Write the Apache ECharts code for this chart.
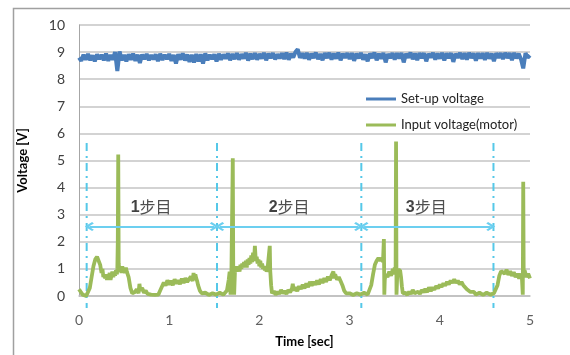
<!DOCTYPE html>
<html>
<head>
<meta charset="utf-8">
<script src="https://cdn.jsdelivr.net/npm/echarts@6.0.0/dist/echarts.min.js"></script>
<style>
  html, body { margin: 0; padding: 0; background: #fff; }
  #chart { width: 570px; height: 355px; }
</style>
</head>
<body>
<div id="chart"></div>
<script>
// axis ticks
var xTicks = { min: 0, max: 5, step: 1 }
var yTicks = { min: 0, max: 10, step: 1 }

// Set-up voltage, sampled every 0.025 s
var setupStep = 0.025
var setupVolt = [
  8.80, 8.68, 8.90, 8.72, 8.93, 8.70, 8.88, 8.66, 8.92, 8.74,
  8.90, 8.70, 8.94, 8.68, 8.89, 8.72, 9.00, 8.30, 9.02, 8.70,
  8.90, 8.66, 8.92, 8.72, 8.94, 8.68, 8.90, 8.60, 8.91, 8.74,
  8.93, 8.70, 8.89, 8.73, 8.92, 8.67, 8.94, 8.71, 8.90, 8.74,
  8.93, 8.68, 8.89, 8.58, 8.92, 8.72, 8.95, 8.69, 8.91, 8.64,
  8.90, 8.62, 8.93, 8.66, 8.92, 8.58, 8.95, 8.70, 8.90, 8.74,
  8.92, 8.66, 8.94, 8.72, 8.91, 8.76, 8.95, 8.70, 8.93, 8.74,
  8.96, 8.72, 8.92, 8.76, 8.97, 8.69, 8.94, 8.74, 8.96, 8.72,
  8.93, 8.76, 8.97, 8.70, 8.94, 8.78, 8.96, 8.73, 8.92, 8.77,
  8.96, 8.74, 8.98, 8.72, 8.94, 8.80, 9.00, 9.10, 8.79, 8.96,
  8.76, 8.97, 8.72, 8.94, 8.78, 8.98, 8.74, 8.93, 8.70, 8.96,
  8.78, 8.97, 8.72, 8.95, 8.76, 8.98, 8.70, 8.94, 8.79, 8.96,
  8.74, 8.96, 8.68, 8.94, 8.77, 8.97, 8.72, 8.92, 8.66, 8.95,
  8.78, 8.98, 8.70, 8.94, 8.76, 8.97, 8.62, 8.93, 8.78, 8.96,
  8.72, 8.96, 8.77, 8.97, 8.62, 8.94, 8.79, 8.98, 8.74, 8.95,
  8.70, 8.96, 8.78, 8.96, 8.66, 8.94, 8.80, 8.97, 8.72, 8.95,
  8.76, 8.97, 8.69, 8.95, 8.78, 8.96, 8.64, 8.94, 8.79, 8.97,
  8.74, 8.96, 8.72, 8.97, 8.78, 8.95, 8.68, 8.96, 8.77, 8.96,
  8.71, 8.97, 8.76, 8.95, 8.66, 8.96, 8.79, 8.96, 8.74, 8.97,
  8.78, 8.96, 8.70, 8.97, 8.77, 8.94, 8.74, 8.40, 8.96, 8.80,
  8.88
]

// Input voltage (motor): time [s] and value [V]
var inputTime = [
  0.00, 0.02, 0.04, 0.06, 0.08, 0.10, 0.12, 0.14, 0.16, 0.18,
  0.20, 0.22, 0.235, 0.25, 0.26, 0.27, 0.28, 0.29, 0.30, 0.31,
  0.32, 0.33, 0.34, 0.35, 0.36, 0.37, 0.38, 0.39, 0.40, 0.41,
  0.42, 0.425, 0.43, 0.435, 0.44, 0.45, 0.46, 0.47, 0.48, 0.49,
  0.50, 0.51, 0.52, 0.53, 0.55, 0.57, 0.59, 0.62, 0.64, 0.66,
  0.67, 0.68, 0.70, 0.72, 0.74, 0.76, 0.78, 0.80, 0.82, 0.84,
  0.86, 0.88, 0.90, 0.92, 0.94, 0.96, 0.98, 1.00, 1.02, 1.04,
  1.06, 1.08, 1.10, 1.12, 1.14, 1.16, 1.18, 1.20, 1.22, 1.24,
  1.26, 1.27, 1.28, 1.29, 1.30, 1.31, 1.32, 1.34, 1.36, 1.38,
  1.40, 1.44, 1.48, 1.52, 1.56, 1.60, 1.62, 1.64, 1.66, 1.67,
  1.68, 1.69, 1.70, 1.705, 1.71, 1.72, 1.73, 1.74, 1.75, 1.76,
  1.77, 1.78, 1.79, 1.80, 1.81, 1.82, 1.83, 1.84, 1.85, 1.86,
  1.87, 1.88, 1.89, 1.90, 1.91, 1.92, 1.93, 1.94, 1.95, 1.96,
  1.97, 1.98, 1.99, 2.00, 2.01, 2.02, 2.03, 2.04, 2.05, 2.06,
  2.07, 2.08, 2.09, 2.10, 2.11, 2.115, 2.12, 2.13, 2.14, 2.16,
  2.18, 2.20, 2.22, 2.24, 2.26, 2.28, 2.30, 2.32, 2.34, 2.36,
  2.37, 2.38, 2.40, 2.42, 2.44, 2.46, 2.48, 2.50, 2.52, 2.54,
  2.56, 2.58, 2.60, 2.62, 2.64, 2.66, 2.68, 2.70, 2.72, 2.74,
  2.76, 2.78, 2.80, 2.82, 2.83, 2.84, 2.86, 2.88, 2.90, 2.92,
  2.94, 2.96, 2.98, 3.00, 3.04, 3.08, 3.12, 3.16, 3.20, 3.22,
  3.24, 3.26, 3.28, 3.30, 3.32, 3.34, 3.36, 3.37, 3.38, 3.385,
  3.39, 3.40, 3.42, 3.44, 3.46, 3.48, 3.49, 3.50, 3.51, 3.515,
  3.52, 3.53, 3.54, 3.55, 3.56, 3.57, 3.58, 3.59, 3.60, 3.62,
  3.64, 3.66, 3.68, 3.70, 3.72, 3.74, 3.76, 3.78, 3.80, 3.82,
  3.84, 3.86, 3.88, 3.90, 3.92, 3.94, 3.96, 3.98, 4.00, 4.02,
  4.04, 4.06, 4.08, 4.10, 4.12, 4.14, 4.16, 4.18, 4.20, 4.22,
  4.24, 4.26, 4.28, 4.30, 4.32, 4.34, 4.36, 4.38, 4.40, 4.44,
  4.48, 4.52, 4.56, 4.60, 4.62, 4.64, 4.66, 4.68, 4.70, 4.72,
  4.74, 4.76, 4.78, 4.80, 4.82, 4.84, 4.86, 4.88, 4.90, 4.91,
  4.92, 4.925, 4.93, 4.94, 4.96, 4.98, 5.00
]
var inputVolt = [
  0.25, 0.15, 0.05, 0.00, 0.00, 0.05, 0.30, 0.70, 1.10, 1.35,
  1.45, 1.40, 1.15, 0.85, 1.00, 0.70, 0.80, 0.65, 0.75, 0.60,
  0.80, 0.70, 0.85, 0.60, 0.75, 0.90, 0.70, 0.85, 0.75, 0.95,
  0.80, 1.00, 2.00, 5.22, 1.20, 0.90, 1.05, 0.85, 1.10, 0.90,
  1.00, 0.85, 1.05, 0.90, 0.70, 0.30, 0.10, 0.15, 0.25, 0.10,
  0.45, 0.20, 0.30, 0.12, 0.20, 0.08, 0.15, 0.05, 0.12, 0.04,
  0.10, 0.05, 0.20, 0.35, 0.50, 0.38, 0.58, 0.42, 0.56, 0.40,
  0.62, 0.46, 0.58, 0.44, 0.64, 0.48, 0.66, 0.52, 0.62, 0.72,
  0.55, 0.85, 0.60, 0.80, 0.65, 0.55, 0.40, 0.20, 0.10, 0.05,
  0.12, 0.04, 0.10, 0.05, 0.12, 0.05, 0.10, 0.20, 0.60, 0.90,
  0.05, 0.95, 1.00, 5.08, 1.00, 0.05, 1.00, 0.90, 1.10, 0.95,
  1.05, 0.90, 1.15, 1.00, 1.20, 1.05, 1.25, 1.10, 1.30, 1.05,
  1.35, 1.15, 1.40, 1.20, 1.50, 1.25, 1.60, 1.30, 1.85, 1.30,
  1.45, 1.20, 1.35, 1.10, 1.30, 1.05, 1.20, 1.00, 1.10, 0.95,
  1.05, 0.90, 1.00, 0.95, 1.00, 1.85, 0.95, 0.40, 0.10, 0.18,
  0.05, 0.16, 0.08, 0.22, 0.10, 0.18, 0.08, 0.22, 0.14, 0.26,
  0.45, 0.20, 0.32, 0.18, 0.36, 0.26, 0.42, 0.28, 0.46, 0.33,
  0.52, 0.38, 0.52, 0.42, 0.57, 0.43, 0.62, 0.48, 0.66, 0.52,
  0.72, 0.58, 0.76, 0.90, 0.65, 0.80, 0.60, 0.70, 0.55, 0.40,
  0.20, 0.10, 0.05, 0.10, 0.04, 0.10, 0.05, 0.12, 0.05, 0.10,
  0.40, 0.80, 1.15, 1.30, 1.40, 1.30, 1.40, 1.25, 2.10, 0.05,
  0.60, 0.80, 0.70, 0.90, 0.75, 1.00, 0.80, 1.05, 0.90, 5.70,
  0.05, 0.95, 1.00, 0.90, 0.95, 0.70, 0.35, 0.10, 0.05, 0.12,
  0.04, 0.16, 0.08, 0.22, 0.10, 0.05, 0.16, 0.08, 0.22, 0.14,
  0.26, 0.14, 0.32, 0.18, 0.32, 0.23, 0.37, 0.28, 0.42, 0.33,
  0.47, 0.38, 0.52, 0.43, 0.57, 0.48, 0.62, 0.48, 0.57, 0.43,
  0.52, 0.40, 0.35, 0.25, 0.20, 0.15, 0.10, 0.15, 0.05, 0.12,
  0.04, 0.12, 0.05, 0.10, 0.15, 0.40, 0.75, 0.92, 0.98, 0.82,
  0.97, 0.78, 0.92, 0.74, 0.88, 0.70, 0.82, 0.64, 0.82, 0.70,
  0.05, 4.22, 0.80, 0.95, 0.70, 0.82, 0.65
]

// step markers (dash-dot lines) and arrows between them
var stepBounds = [0.085, 1.53, 3.13, 4.595]
var markerTop = 5.65
var markerBottom = -0.44
var arrowY = 2.56
var stepNames = ['1', '2', '3']
var stepLabelX = [0.80, 2.33, 3.85]
var stepLabelY = 3.28

var seriesNames = ['Set-up voltage', 'Input voltage(motor)']

var chart = echarts.init(document.getElementById('chart'))

var setupData = setupVolt.map(function (v, i) { return [i * setupStep, v] })
var inputData = inputTime.map(function (t, i) { return [t, inputVolt[i]] })
var boundData = stepBounds.map(function (x) { return [x, markerTop, markerBottom] })

var cyan = '#55c8e8'
var chevron = 'path://M5,0 L10,8 L8.4,10 L5,4.4 L1.6,10 L0,8 Z'

var arrows = []
for (var i = 0; i < stepBounds.length - 1; i++) {
  arrows.push([
    { coord: [stepBounds[i] + 0.03, arrowY] },
    { coord: [stepBounds[i + 1] - 0.03, arrowY] }
  ])
}

var labelData = stepNames.map(function (n, i) {
  return { value: [stepLabelX[i], stepLabelY], name: n }
})

var font = 'Lato, "Noto Sans", sans-serif'

var option = {
  animation: false,
  textStyle: { fontFamily: font },
  grid: { left: 79, right: 40, top: 25, bottom: 59 },
  graphic: [{
    type: 'rect',
    silent: true,
    shape: { x: 13.5, y: 8.5, width: 620, height: 400 },
    style: { fill: 'none', stroke: '#a0a0a0', lineWidth: 1.5 }
  }],
  legend: {
    data: seriesNames,
    orient: 'vertical',
    left: 361,
    top: 87,
    itemWidth: 30,
    itemHeight: 3,
    itemGap: 12,
    icon: 'rect',
    textStyle: { fontFamily: font, fontSize: 13, color: '#222', lineHeight: 14 }
  },
  xAxis: {
    type: 'value',
    min: xTicks.min,
    max: xTicks.max,
    interval: xTicks.step,
    name: 'Time [sec]',
    nameLocation: 'middle',
    nameGap: 39,
    nameTextStyle: { fontWeight: 'bold', fontSize: 13, color: '#000', fontFamily: font },
    axisLine: { lineStyle: { color: '#bfbfbf', width: 1.5 } },
    axisTick: { show: false },
    axisLabel: { fontSize: 14, color: '#606060', margin: 17, fontFamily: font },
    splitLine: { show: false }
  },
  yAxis: {
    type: 'value',
    min: yTicks.min,
    max: yTicks.max,
    interval: yTicks.step,
    name: 'Voltage [V]',
    nameLocation: 'middle',
    nameGap: 50,
    nameTextStyle: { fontWeight: 'bold', fontSize: 13, color: '#000', fontFamily: font },
    axisLine: { show: true, lineStyle: { color: '#a6a6a6', width: 1 } },
    axisTick: { show: false },
    axisLabel: { fontSize: 14, color: '#404040', margin: 14, fontFamily: font },
    splitLine: { lineStyle: { color: '#c4c4c4', width: 1.5 } }
  },
  series: [
    {
      name: seriesNames[0],
      type: 'line',
      data: setupData,
      showSymbol: false,
      symbol: 'none',
      lineStyle: { color: '#4a7ebb', width: 4 },
      itemStyle: { color: '#4a7ebb' }
    },
    {
      name: seriesNames[1],
      type: 'line',
      data: inputData,
      showSymbol: false,
      symbol: 'none',
      lineStyle: { color: '#9bbb59', width: 3.8 },
      itemStyle: { color: '#9bbb59' },
      markLine: {
        silent: true,
        symbol: [chevron, chevron],
        symbolSize: 9,
        label: { show: false },
        lineStyle: { type: 'solid', width: 2, color: '#6ccff0' },
        data: arrows
      }
    },
    {
      name: 'bounds',
      type: 'custom',
      data: boundData,
      encode: { x: 0, y: [1, 2] },
      clip: false,
      silent: true,
      renderItem: function (params, api) {
        var x = api.value(0)
        var p1 = api.coord([x, api.value(1)])
        var p2 = api.coord([x, api.value(2)])
        return {
          type: 'line',
          shape: { x1: p1[0], y1: p1[1], x2: p2[0], y2: p2[1] },
          style: { stroke: cyan, lineWidth: 2, lineDash: [8, 5, 2, 5] }
        }
      }
    },
    {
      name: 'steps',
      type: 'scatter',
      data: labelData,
      symbolSize: 0,
      silent: true,
      label: {
        show: true,
        position: 'inside',
        formatter: function (p) { return '{n|' + p.name + '}{c|步目}' },
        rich: {
          n: { fontFamily: 'Liberation Sans, Arial, sans-serif', fontWeight: 'bold', fontSize: 16, color: '#111' },
          c: { fontFamily: '"Noto Sans CJK SC", sans-serif', fontSize: 16, color: '#222' }
        }
      }
    }
  ]
}

chart.setOption(option)
</script>
</body>
</html>
